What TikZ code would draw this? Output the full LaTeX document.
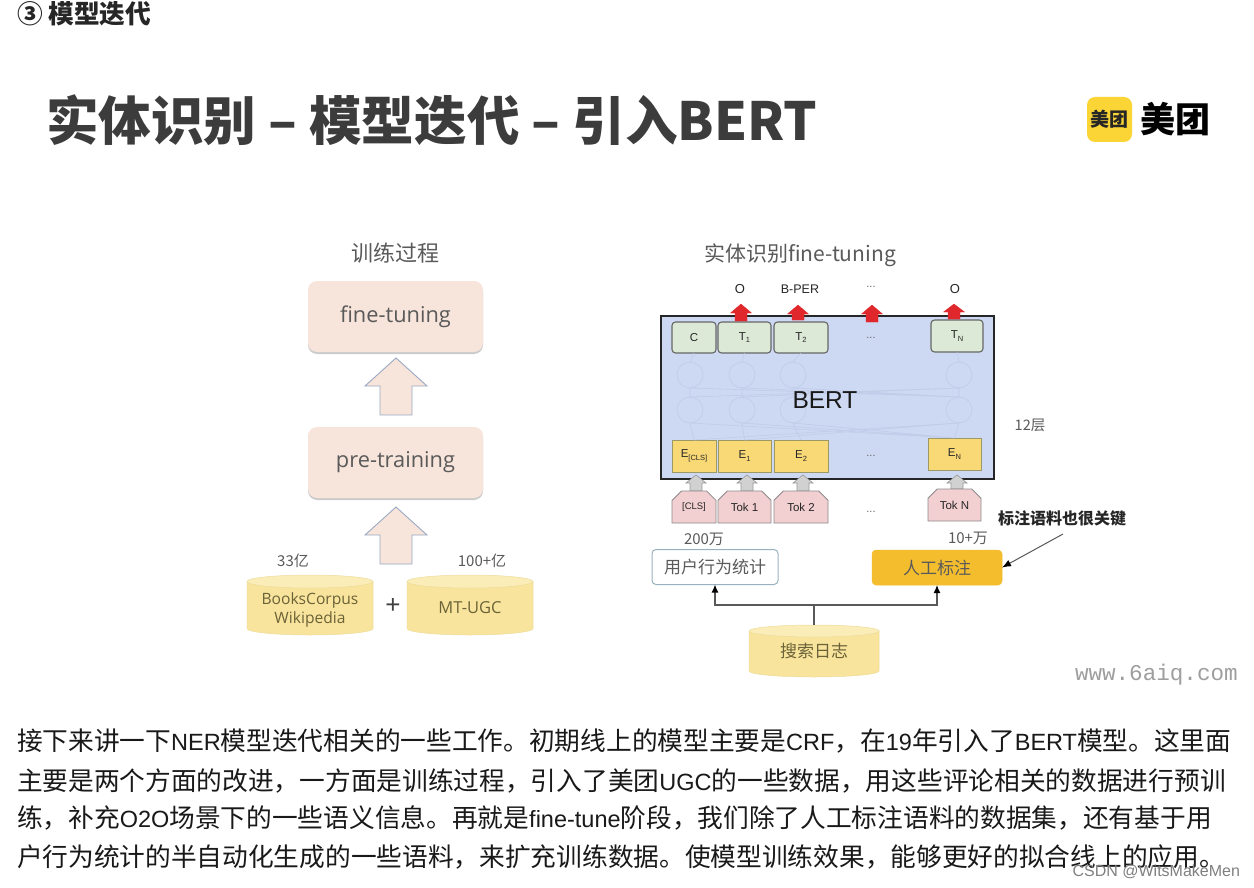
\documentclass[tikz,border=0pt]{standalone}
\usepackage{fontspec}
\setmainfont{Noto Sans CJK SC}
\newfontfamily\latf{Liberation Sans}
\newfontfamily\dgf{Open Sans}
\newfontfamily\wmf{Liberation Mono}
\usetikzlibrary{shapes.misc,shadows,arrows.meta}
\newcommand{\fs}[1]{\fontsize{#1}{#1}\selectfont}
\newcommand{\lat}[1]{{\latf\fs{23.5}#1}}
\newcommand{\lowsub}[1]{\raisebox{-2.5pt}{\fs{7.5}#1}}
% cx, tip y, base y, half head, half shaft, shoulder y
\newcommand{\blockarr}[7]{\path[#1] (#2,#3) -- (#2+#5,#7) -- (#2+#6,#7) -- (#2+#6,#4) -- (#2-#6,#4) -- (#2-#6,#7) -- (#2-#5,#7) -- cycle;}
% cx, top y, bottom y, rx, ry
\newcommand{\storage}[5]{%
  \path[cylbody] (#1-#4,#2+#5) -- (#1-#4,#3-#5) arc[start angle=180,end angle=360,x radius=#4,y radius=-#5] -- (#1+#4,#2+#5) -- cycle;
  \path[cylcap] (#1,#2+#5) ellipse[x radius=#4,y radius=#5];}
\definecolor{txtgray}{HTML}{5A5A5A}
\definecolor{titlegray}{HTML}{3C3C3C}
\definecolor{peach}{HTML}{F7E4DA}
\definecolor{cylfill}{HTML}{F8E49C}
\definecolor{cyltop}{HTML}{FAEDB8}
\definecolor{bertblue}{HTML}{CDD9F3}
\definecolor{greenbox}{HTML}{DCE9D6}
\definecolor{yellowbox}{HTML}{F9D876}
\definecolor{pinkbox}{HTML}{F2CFD1}
\definecolor{ghostc}{HTML}{C0CCE8}
\definecolor{logoy}{HTML}{FBD535}
\definecolor{markbox}{HTML}{F3BD2E}
\definecolor{arrowedge}{HTML}{9AAAC4}
\definecolor{redup}{HTML}{E0282C}
\definecolor{stortxt}{HTML}{6B6238}
\tikzset{
  every node/.style={inner sep=0pt,outer sep=0pt,align=center},
  peachbox/.style={rectangle,rounded corners=9pt,fill=peach,minimum width=175pt,minimum height=71pt,
    drop shadow={shadow xshift=0pt,shadow yshift=-2pt,fill=black!45,opacity=.45},text=txtgray,font=\dgf\fs{21.8}},
  blockpeach/.style={fill=peach,draw=arrowedge,line width=.9pt},
  cylbody/.style={fill=cylfill,draw=cylfill!92!gray,line width=.5pt},
  cylcap/.style={fill=cyltop,draw=cylfill!92!gray,line width=.5pt},
  stor/.style={rectangle,text=stortxt},
  greenb/.style={rectangle,rounded corners=3.5pt,fill=greenbox,draw=black!60,line width=1.1pt,font=\latf\fs{11.5},text=black!85},
  yellowb/.style={rectangle,fill=yellowbox,draw=black!40!yellow!60!gray,line width=.8pt,font=\latf\fs{11.5},text=black!85},
  pinkb/.style={chamfered rectangle,chamfered rectangle corners={north west,north east},chamfered rectangle xsep=5pt,chamfered rectangle ysep=5pt,fill=pinkbox,draw=black!45,line width=.8pt,font=\latf\fs{11.5},text=black!85},
  ghost/.style={circle,draw=ghostc,line width=.6pt,minimum size=26pt},
  ghostl/.style={draw=ghostc,line width=.6pt},
  redarr/.style={fill=redup,draw=redup,line width=.3pt},
  grayarr/.style={fill=black!18,draw=black!40,line width=.6pt},
  dots/.style={font=\latf\fs{11},text=black!60},
  lbl/.style={text=txtgray},
  conn/.style={draw=black!65,line width=1.3pt},
  connarr/.style={conn,-{Latex[length=8pt,width=7pt,black]}},
  uibox/.style={rectangle,rounded corners=4pt,minimum height=35pt,font=\fs{17},text=txtgray},
  bodytext/.style={anchor=west,font=\fs{25.7},text=black!90}
}
\begin{document}
\begin{tikzpicture}[x=1pt,y=-1pt]
\useasboundingbox (0,0) rectangle (1254,888);
\fill[white] (0,0) rectangle (1254,888);
% header
\node[anchor=west,font=\bfseries\fs{25.7},text=black!85] (head) at (17,14) {③ 模型迭代};
\node[anchor=west,font=\bfseries\fs{52.6},text=titlegray] (title) at (46,120) {实体识别 – 模型迭代 – 引入BERT};
% logo
\node[rectangle,rounded corners=8pt,fill=logoy,minimum size=45pt,font=\bfseries\fs{19},text=black!85] (logoa) at (1109.5,119.5) {美团};
\node[font=\bfseries\fs{35},text=black] (logob) at (1175,119) {美团};
% left diagram
\node[font=\fs{22},text=txtgray] (ltitle) at (395,253) {训练过程};
\node[peachbox] (fine) at (395.5,316.5) {\raisebox{-5pt}{fine-tuning}};
\node[peachbox] (pre) at (395.5,462.5) {\raisebox{-5pt}{pre-training}};
\blockarr{blockpeach}{396}{358}{415}{31}{16}{386}
\blockarr{blockpeach}{396}{507}{564}{31}{16}{535}
\node[lbl,font=\fs{15}] (n33) at (293,561) {33亿};
\node[lbl,font=\fs{15}] (n100) at (482,561) {100+亿};
\storage{310}{575}{635}{63}{6.5}
\node[stor,minimum width=126pt,minimum height=60pt,font=\dgf\fs{15.6}] (books) at (310,610) {BooksCorpus\\[4pt]Wikipedia};
\node[font=\latf\fs{26},text=black!75] (plus) at (393,606) {+};
\storage{470}{575}{635}{63}{6.5}
\node[stor,minimum width=126pt,minimum height=60pt,font=\dgf\fs{16.5}] (mtugc) at (470,608) {MT-UGC};
% right diagram
\node[font=\fs{21},text=txtgray] (rtitle) at (800,255) {实体识别fine-tuning};
\node[rectangle,fill=bertblue,draw=black!85,line width=2.4pt,minimum width=333pt,minimum height=163pt] (bert) at (827.5,397.5) {};
\foreach \n/\x in {a/690,b/742,c/793,d/959}{
  \node[ghost] (gu\n) at (\x,375) {};
  \node[ghost] (gl\n) at (\x,410) {};
}
% green row
\node[greenb,minimum width=44pt,minimum height=31pt] (c) at (694,337.5) {C};
\node[greenb,minimum width=53pt,minimum height=31pt] (t1) at (744.5,337.5) {T\lowsub{1}};
\node[greenb,minimum width=54pt,minimum height=31pt] (t2) at (801,337.5) {T\lowsub{2}};
\node[dots] (d1) at (871,338) {...};
\node[greenb,minimum width=52pt,minimum height=32pt] (tn) at (957,336) {T\lowsub{N}};
% yellow row
\node[yellowb,minimum width=44pt,minimum height=32pt] (ecls) at (694,456) {E\lowsub{[CLS]}};
\node[yellowb,minimum width=53pt,minimum height=32pt] (e1) at (744.5,456) {E\lowsub{1}};
\node[yellowb,minimum width=54pt,minimum height=32pt] (e2) at (801,456) {E\lowsub{2}};
\node[dots] (d2) at (871,456) {...};
\node[yellowb,minimum width=53pt,minimum height=32pt] (en) at (954.5,454) {E\lowsub{N}};
% ghost connections
\draw[ghostl] (c.south) -- (gua.north) (gua.south) -- (gla.north) (gla.south) -- (ecls.north);
\draw[ghostl] (t1.south) -- (gub.north) (gub.south) -- (glb.north) (glb.south) -- (e1.north);
\draw[ghostl] (t2.south) -- (guc.north) (guc.south) -- (glc.north) (glc.south) -- (e2.north);
\draw[ghostl] (tn.south) -- (gud.north) (gud.south) -- (gld.north) (gld.south) -- (en.north);
\draw[ghostl] (gua.south) -- (gld.north) (gud.south) -- (gla.north) (gub.south) -- (gld.north) (gud.south) -- (glb.north) (guc.south) -- (gld.north);
\draw[ghostl] (gla.south) -- (en.north) (gld.south) -- (ecls.north) (glc.south) -- (en.north) (gld.south) -- (e1.north) (glb.south) -- (en.north);
\node[font=\latf\fs{24.5},text=black!90] (bertl) at (825,400) {BERT};
% red arrows
\blockarr{redarr}{741}{304}{321}{10.5}{6}{313}
\blockarr{redarr}{798}{305}{320}{10.5}{6}{314}
\blockarr{redarr}{872}{305}{322}{10.5}{6}{314}
\blockarr{redarr}{954}{304}{319}{10.5}{6}{312}
\node[font=\latf\fs{13},text=black!85] (o1) at (740,289) {O};
\node[font=\latf\fs{12.5},text=black!85] (bper) at (800,289) {B-PER};
\node[dots] (d3) at (871,287) {...};
\node[font=\latf\fs{13},text=black!85] (o2) at (955,289) {O};
\node[lbl,font=\fs{14.5}] (n12) at (1030,425) {12层};
% token row
\blockarr{grayarr}{696}{475}{491}{10}{6}{483}
\blockarr{grayarr}{747}{475}{491}{10}{6}{483}
\blockarr{grayarr}{803}{475}{491}{10}{6}{483}
\blockarr{grayarr}{957}{475}{489}{10}{6}{483}
\node[pinkb,minimum width=44pt,minimum height=32pt,font=\latf\fs{9.5}] (tcls) at (694,507) {\raisebox{-1pt}{[CLS]}};
\node[pinkb,minimum width=53pt,minimum height=32pt] (tok1) at (744.5,507) {\raisebox{-1pt}{Tok 1}};
\node[pinkb,minimum width=54pt,minimum height=32pt] (tok2) at (801,507) {\raisebox{-1pt}{Tok 2}};
\node[dots] (d4) at (871,512) {...};
\node[pinkb,minimum width=53pt,minimum height=32pt] (tokn) at (954.5,505) {\raisebox{-1pt}{Tok N}};
% bottom
\node[lbl,font=\fs{15}] (n200) at (704,539) {200万};
\node[lbl,font=\fs{15}] (n10) at (968,538) {10+万};
\node[uibox,draw=black!25!cyan!40!gray!70,line width=1pt,fill=white,minimum width=126pt] (ub) at (715,567) {用户行为统计};
\node[uibox,fill=markbox,draw=markbox,line width=.5pt,minimum width=130pt] (rg) at (937,567.5) {人工标注};
\node[font=\bfseries\fs{16},text=black!85] (note) at (1062,518) {标注语料也很关键};
\coordinate (notefoot) at (1063,534);
\draw[conn,line width=1pt,-{Latex[length=9pt,width=7pt,black]}] (notefoot) -- (rg.east);
\storage{814}{625}{677}{65}{6}
\node[stor,minimum width=130pt,minimum height=52pt,font=\fs{17}] (log) at (814,651) {\raisebox{-4pt}{搜索日志}};
\coordinate (junc) at (814,605);
\draw[conn] (log.north) -- (junc);
\draw[connarr] (junc) -| (ub.south);
\draw[connarr] (junc) -| (rg.south);
% watermark
\node[anchor=west,font=\wmf\fs{22.6},text=black!38] (wm) at (1075,675) {www.6aiq.com};
% body text
\node[bodytext] (p1) at (17,741) {接下来讲一下\lat{NER}模型迭代相关的一些工作。初期线上的模型主要是\lat{CRF}，在\lat{19}年引入了\lat{BERT}模型。这里面};
\node[bodytext] (p2) at (17,781) {主要是两个方面的改进，一方面是训练过程，引入了美团\lat{UGC}的一些数据，用这些评论相关的数据进行预训};
\node[bodytext] (p3) at (17,818) {练，补充\lat{O2O}场景下的一些语义信息。再就是\lat{fine-tune}阶段，我们除了人工标注语料的数据集，还有基于用};
\node[bodytext] (p4) at (17,857) {户行为统计的半自动化生成的一些语料，来扩充训练数据。使模型训练效果，能够更好的拟合线上的应用。};
\node[anchor=east,font=\latf\fs{16},text=black!50] (csdn) at (1240,872) {CSDN @WitsMakeMen};
\end{tikzpicture}
\end{document}
